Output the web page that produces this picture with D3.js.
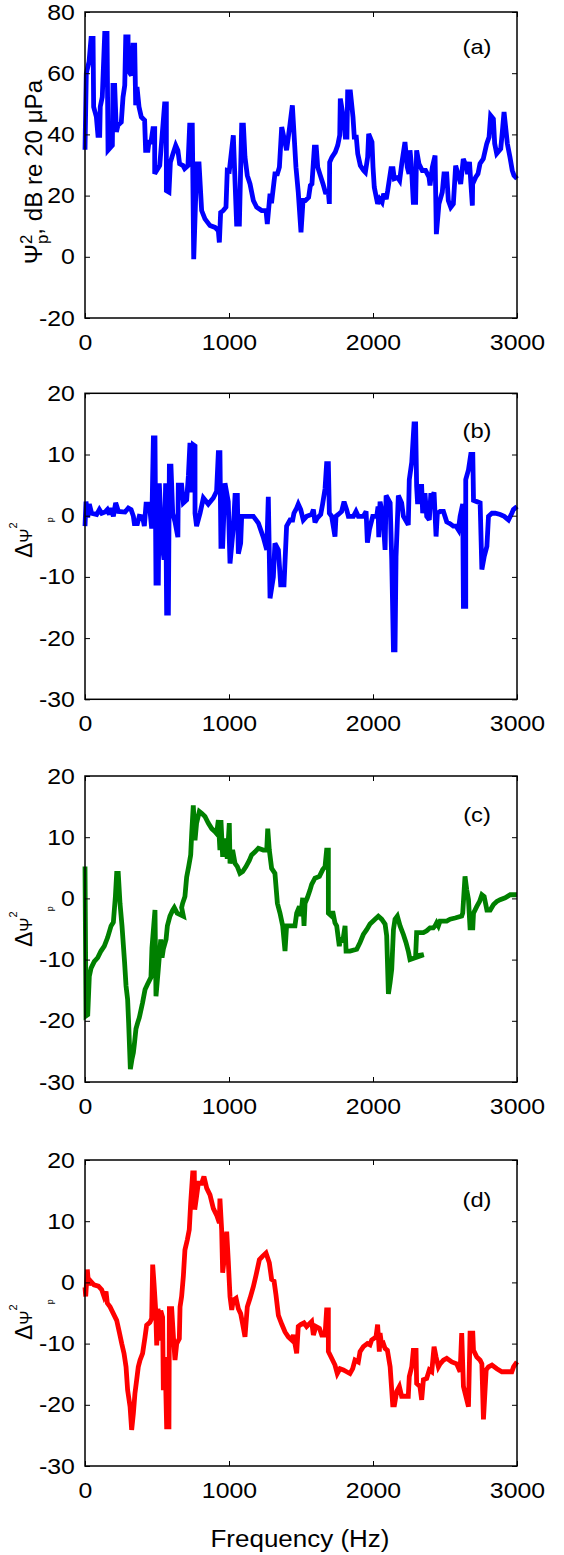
<!DOCTYPE html>
<html><head><meta charset="utf-8">
<script src="https://cdn.jsdelivr.net/npm/d3@7"></script>
<style>
html,body{margin:0;padding:0;background:#fff;}
svg text{font-family:"Liberation Sans",Arial,Helvetica,sans-serif;fill:#000;}
</style></head>
<body>
<svg id="chart" width="564" height="1555"></svg>
<script>
// ---------- data ----------
const xTicks = [0, 1000, 2000, 3000];
const yTicksA = [-20, 0, 20, 40, 60, 80];
const yTicksD = [-30, -20, -10, 0, 10, 20];
const panelLetters = ["(a)", "(b)", "(c)", "(d)"];
const lineColors = ["#0000ff", "#0000ff", "#008000", "#ff0000"];

const freqA = [0,9,28,42,56,60,79,90,102,106,120,137,153,160,190,194,206,218,229,252,264,276,283,299,299,322,333,345,352,361,375,391,414,421,437,444,458,472,484,484,519,553,565,565,583,593,611,630,645,657,681,692,715,727,745,755,776,792,810,833,868,903,926,933,942,960,979,988,1002,1030,1053,1072,1088,1100,1111,1127,1146,1169,1192,1227,1257,1266,1285,1295,1319,1336,1350,1366,1400,1424,1440,1465,1481,1500,1514,1530,1553,1565,1576,1593,1606,1616,1634,1653,1669,1690,1697,1699,1715,1738,1755,1769,1773,1796,1808,1819,1824,1843,1861,1870,1884,1894,1912,1935,1947,1963,1970,1993,2000,2009,2032,2046,2063,2074,2092,2102,2125,2139,2148,2171,2185,2201,2222,2238,2250,2257,2266,2280,2296,2303,2319,2342,2365,2389,2396,2412,2431,2440,2458,2481,2493,2512,2523,2540,2558,2574,2590,2609,2627,2650,2657,2670,2690,2692,2713,2729,2743,2766,2790,2806,2817,2836,2845,2859,2887,2898,2910,2933,2951,2967,2979,3000];
const psiA = [35,60,63.7,71.4,71.4,49,45.7,39.7,39.7,49,52.2,73,73,34.8,36.4,56,56,40.8,43,44,52.2,56,71.9,71.9,61,59.3,69.2,69.2,49.5,55.5,49,45.7,44.6,34.8,34.8,37.5,37.5,41.9,41.9,27.1,29.8,50,50,21.6,21.1,30.9,33.7,36.4,34.8,30.4,29.8,28.8,29.8,43,43,-0.8,30.4,30.4,15.1,12.4,10.2,9.6,8.5,4.7,14.5,15.1,16.2,28.2,28,39.7,10.7,10.7,43,43,32.6,26.6,23.8,18.4,16.2,15.1,15.1,10.7,20.6,17.5,27.1,27.1,29.3,42.4,34.8,43.5,49.5,29.3,21.1,8,18.4,18.4,19.4,23.3,23.8,35.8,35.8,29.3,26.6,23.8,21.1,21,17.3,30.9,32.6,34.2,36.4,39.7,51.7,45.1,39.1,39.1,53.9,53.9,45.7,39.1,39.1,33.7,29.8,28.2,27.6,32.6,40.2,37.5,29.3,22.7,17.3,18.9,17.8,20.6,18.9,21.6,28.8,28.8,25.5,25.9,24.9,30.9,37.5,29.3,27.1,34.8,30.4,17.8,17.8,34.8,30.4,28.2,28.2,26,23.3,29.3,33.1,7.4,17.3,21.1,27.1,27.1,18.4,16.2,17.3,29.8,27.1,23.8,32,29.3,27,31,16.7,23.8,26,27.1,30.4,32,37,39.1,46.2,45.1,37,33.7,35.3,40.8,47.3,37,32.6,28.2,26.6,25.5];

const freqB = [0,7,19,30,46,81,100,116,139,155,169,181,197,213,232,278,301,320,336,343,364,377,400,412,424,447,463,475,486,493,509,516,532,549,560,567,579,586,597,609,625,645,648,671,683,706,718,729,741,752,764,764,775,799,822,856,891,914,926,937,944,956,972,995,1007,1030,1042,1058,1065,1081,1088,1123,1169,1204,1238,1262,1273,1285,1308,1319,1343,1359,1382,1400,1424,1442,1451,1470,1481,1498,1516,1539,1574,1586,1597,1613,1637,1650,1667,1678,1690,1697,1713,1736,1743,1759,1782,1799,1817,1829,1864,1882,1898,1933,1952,1961,1975,1998,2026,2035,2040,2049,2060,2072,2084,2091,2119,2130,2142,2153,2160,2176,2199,2211,2245,2252,2269,2285,2296,2303,2310,2322,2338,2345,2361,2373,2391,2401,2415,2424,2438,2447,2466,2489,2512,2535,2558,2577,2593,2605,2623,2628,2644,2644,2663,2679,2693,2698,2721,2744,2756,2772,2791,2802,2826,2849,2883,2911,2941,2964,2975,3000];
const deltaB = [-1.7,2.3,-0.3,1.9,0.4,0.2,1,0.4,0.6,1,0.2,1.25,-0.1,2.1,0.7,0.6,1.25,1,-0.1,-1.3,-1.3,-0.1,-0.2,-1.7,1.9,1.9,-2.1,12.7,12.7,-11,-11,5.3,-3.9,-7.2,5.3,-15.9,-15.9,8.1,8.1,0.4,-1,-3.5,5,5,2.1,2.6,6.5,11.9,3.8,11.6,11.4,0.4,-1.7,0.4,2.9,1.9,2.9,4,10.3,10.3,-5,-5,5.3,2.3,-7.8,-2,3.3,3.3,-6.2,-4.5,-0.1,-0.1,-0.1,-1.2,-3.5,-5.6,3.1,-13.5,-10,-4.5,-5.6,-11.3,-11.3,-1.7,-0.7,-0.7,0.4,1.25,1.9,1,-0.7,-0.1,0.2,1,-1.1,-0.4,0.2,1.9,4.4,8.5,8.5,0.4,-0.1,-3.4,-0.1,0.2,0.7,2.3,1,-0.1,-0.1,0.7,-0.1,-0.1,0.7,-4.4,-2.3,-0.1,-0.1,1.5,-3.5,2.3,1,-1,-5.6,3.3,2.1,-7.2,-21.9,-21.9,-6.7,3.3,2.1,-0.1,-1.5,5.9,8.7,15,15,4.8,1.9,4.8,4.8,0.4,3.7,-0.1,-0.7,3.3,3.3,3.8,-3.4,0.4,0.7,0.7,-1,-1.3,-1.7,-1.7,-2.3,-0.1,1.9,-14.8,-14.8,5.9,7.5,10,10,2.5,2.3,2.1,-8.8,-6.7,-5,-0.1,0.4,0.4,0.2,-0.1,-0.7,0.4,1,1.5];

const freqC = [0,7,19,30,42,65,88,111,134,157,181,197,211,220,231,243,257,275,285,296,303,315,326,336,343,354,366,377,400,417,435,458,465,486,493,509,526,535,544,563,572,590,609,620,640,683,671,678,694,706,720,734,741,752,764,775,794,810,833,856,880,903,914,926,937,944,956,972,988,1002,1007,1025,1042,1058,1076,1095,1118,1141,1157,1181,1204,1238,1262,1269,1280,1296,1319,1336,1354,1373,1389,1400,1458,1470,1489,1498,1512,1521,1528,1544,1563,1574,1597,1628,1651,1667,1678,1690,1690,1713,1720,1736,1748,1766,1776,1789,1806,1813,1840,1887,1910,1933,1956,1979,2014,2037,2060,2084,2095,2107,2119,2130,2142,2153,2169,2188,2211,2229,2245,2257,2352,2296,2303,2350,2373,2396,2419,2431,2442,2454,2466,2512,2535,2570,2616,2623,2639,2651,2663,2674,2693,2698,2721,2740,2756,2772,2791,2814,2837,2860,2883,2918,2953,3000];
const deltaC = [5.2,-19.2,-19,-12.7,-11.4,-10.3,-9.7,-8.6,-7.8,-6.4,-4.5,-3.9,0.3,4.1,4.1,-0.8,-4.5,-10.5,-14.3,-16.5,-20.3,-27.9,-26.3,-25.2,-23.8,-21.3,-20.3,-19.5,-17,-14.9,-14,-12.9,-8.1,-1.9,-16,-11.6,-6.7,-9.7,-8.3,-6.7,-4.5,-2.9,-1.9,-1.5,-2.4,-2.9,-1.5,-0.8,0.3,3.5,5.2,7.1,10.6,15.2,9.5,12.3,14.2,13.9,13.4,12.3,11.4,10.9,10.6,12.8,7.9,12.8,6.8,9.8,6.5,12.3,5.7,7.9,5.7,5.2,4.1,4.4,5.2,6.2,7.1,7.6,8.2,7.9,7.9,11.4,7.9,4.9,4.1,-0.8,-2.4,-4.5,-8.6,-4.5,-4.5,-2.4,-1.3,-2.9,0.1,-4.5,-0.8,0.1,1.4,2.3,3.3,3.6,4.7,5.2,7.9,7.9,-2.4,-2.9,-2.1,-4,-4.5,-7.8,-6.4,-7.2,-4.5,-8.6,-8.6,-8.3,-7.2,-5.9,-5.1,-4.2,-3.4,-2.9,-3.4,-4.2,-6.1,-15.6,-13.7,-11.6,-5.1,-3.4,-2.9,-4.5,-5.9,-7.2,-8.6,-10,-9.2,-9.4,-5.6,-5.6,-5.3,-4.8,-4.8,-4.5,-4,-4.5,-3.7,-3.7,-3.4,-3.2,-2.9,-2.4,3.6,1.4,-0.2,-4.8,-4.8,-2.4,-1.3,-0.5,0.6,0.3,-1.9,-1.9,-1,-0.5,-0.2,0.1,0.6,0.6];

const freqD = [0,5,16,25,39,62,93,116,132,146,155,174,197,220,238,255,271,285,296,313,324,336,347,359,370,382,400,417,428,451,463,470,479,491,498,507,516,526,539,544,556,567,583,586,602,614,625,637,655,660,671,683,694,711,724,734,748,759,762,775,787,810,826,845,868,891,914,933,937,949,956,972,984,995,1007,1019,1030,1049,1065,1081,1095,1111,1127,1146,1169,1188,1211,1234,1257,1280,1296,1313,1326,1343,1366,1389,1412,1435,1447,1470,1481,1498,1521,1539,1574,1586,1604,1628,1644,1667,1678,1690,1690,1713,1736,1752,1771,1794,1817,1840,1859,1875,1898,1910,1933,1961,1979,1991,2021,2032,2044,2049,2060,2072,2084,2100,2119,2137,2149,2165,2183,2199,2245,2252,2269,2280,2299,2303,2326,2338,2350,2373,2391,2408,2424,2438,2454,2466,2489,2512,2547,2581,2605,2616,2628,2663,2674,2693,2698,2721,2744,2756,2767,2786,2802,2826,2860,2895,2964,2976,3000];
const deltaD = [-0.8,-2.3,2.1,-0.4,0.2,-0.4,-0.6,-1.2,-2.3,-1.5,-3.4,-4,-5.1,-6.2,-8.1,-10,-11.6,-13.8,-17.6,-20.3,-24.1,-21.4,-18.1,-15.9,-13.8,-12.7,-11.6,-8.9,-7,-6.5,-5.9,2.9,-0.1,-4.6,-10.3,-4.3,-9.5,-4.6,-5.7,-17.6,-12.2,-23.6,-23.6,-4.3,-4.3,-8.9,-12.7,-10,-9.2,-4,-2.3,1,5.3,7,8.6,13,17.9,17.9,11.9,14.1,16.2,16.2,17.3,15.4,14.3,12.1,11,9.7,13.7,8.6,1.6,4.8,8.3,3.5,-2.3,-4.5,-2.9,-2.6,-4.3,-5.1,-6.8,-8.9,-4,-2.6,-0.7,1.2,3.7,4.3,4.8,3.2,0.5,0.2,-2,-5.4,-6.8,-8.1,-8.9,-9.4,-8.6,-11.6,-7.2,-6.9,-6.6,-7.2,-6.4,-8.6,-7.2,-7.5,-8.6,-8.6,-4.5,-4.5,-11.3,-12.4,-13.5,-14.9,-14.1,-14.3,-14.6,-14.9,-14.1,-12.7,-13,-11.3,-10.5,-10,-10.2,-9.4,-8.9,-6.9,-11.3,-8.3,-10.2,-10,-10.8,-11.1,-13.8,-20,-20,-17.8,-17,-18.6,-18.6,-15.4,-13.8,-11.1,-11.1,-16.5,-17,-19.2,-15.9,-15.7,-14.3,-14.6,-10.5,-12.2,-13.8,-13.3,-12.7,-12.4,-13,-13.3,-14.6,-8.3,-17,-20.3,-8.3,-8.3,-11.1,-12.2,-12.7,-13.3,-22.4,-14.3,-13.8,-13.5,-14.1,-14.6,-14.6,-13.8,-13];

// ---------- layout ----------
const svg = d3.select("#chart");
const left = 85, right = 517;
const tops = [12, 393.3, 776, 1160];
const ph = 306;
const labelOffsets = [42, 45, 46, 47];
const panels = [
  {f: freqA, v: psiA, dom: [-20, 80], ticks: yTicksA},
  {f: freqB, v: deltaB, dom: [-30, 20], ticks: yTicksD},
  {f: freqC, v: deltaC, dom: [-30, 20], ticks: yTicksD},
  {f: freqD, v: deltaD, dom: [-30, 20], ticks: yTicksD}
];
const SX = 1.13;
const fmt = d => String(d);

panels.forEach((p, i) => {
  const top = tops[i], bottom = top + ph;
  const x = d3.scaleLinear().domain([0, 3000]).range([left, right]);
  const y = d3.scaleLinear().domain(p.dom).range([bottom, top]);
  const g = svg.append("g");

  // data line
  const pts = p.f.map((f, k) => [f, p.v[k]]);
  g.append("path").datum(pts)
    .attr("fill", "none").attr("stroke", lineColors[i])
    .attr("stroke-width", 4.8).attr("stroke-linejoin", "miter").attr("stroke-miterlimit", 3)
    .attr("d", d3.line().x(d => x(d[0])).y(d => y(d[1])));

  // axes
  const ax = (gen, tx, ty, labels) => {
    const a = g.append("g").attr("transform", `translate(${tx},${ty})`).call(gen);
    a.select(".domain").remove();
    a.selectAll(".tick line").attr("stroke", "#000").attr("stroke-width", 1);
    if (!labels) a.selectAll(".tick text").remove();
    return a;
  };
  const bx = ax(d3.axisBottom(x).tickValues(xTicks).tickSize(-5).tickPadding(16).tickFormat(fmt), 0, bottom, true);
  bx.selectAll("text").attr("font-size", 22).attr("transform", `scale(${SX},1)`);
  ax(d3.axisTop(x).tickValues(xTicks).tickSize(-5), 0, top, false);
  const ly = ax(d3.axisLeft(y).tickValues(p.ticks).tickSize(-5).tickPadding(9).tickFormat(fmt), left, 0, true);
  ly.selectAll("text").attr("font-size", 22).attr("transform", `scale(${SX},1)`);
  ax(d3.axisRight(y).tickValues(p.ticks).tickSize(-5), right, 0, false);

  // frame
  g.append("rect").attr("x", left).attr("y", top).attr("width", right - left).attr("height", ph)
    .attr("fill", "none").attr("stroke", "#000").attr("stroke-width", 1.5);

  // panel letter
  g.append("text").attr("x", 477 / SX).attr("y", top + labelOffsets[i])
    .attr("transform", `scale(${SX},1)`)
    .attr("text-anchor", "middle").attr("font-size", 21).text(panelLetters[i]);
});

// y label panel (a)
const ta = svg.append("text").attr("font-size", 23).attr("text-anchor", "middle")
  .attr("transform", "translate(42,172) rotate(-90) scale(1.05,1)");
ta.append("tspan").text("Ψ");
ta.append("tspan").attr("font-size", 16).attr("dy", -10).text("2");
ta.append("tspan").attr("font-size", 16).attr("dx", -9).attr("dy", 16).text("p");
ta.append("tspan").attr("dy", -6).text(", dB re 20 μPa");

// delta labels
const deltaStarts = [558, 947, 1340];
deltaStarts.forEach(sy => {
  const t = svg.append("text").attr("font-size", 23).attr("text-anchor", "start")
    .attr("transform", `translate(32,${sy}) rotate(-90)`);
  t.append("tspan").text("Δ");
  t.append("tspan").attr("font-size", 17).text("Ψ");
  t.append("tspan").attr("font-size", 11).attr("dy", -15).text("2");
  t.append("tspan").attr("font-size", 9).attr("dy", 36).text("p");
});

// x label
svg.append("text").attr("x", 300 / SX).attr("y", 1547).attr("transform", `scale(${SX},1)`)
  .attr("text-anchor", "middle").attr("font-size", 23).text("Frequency (Hz)");
</script>
</body></html>
